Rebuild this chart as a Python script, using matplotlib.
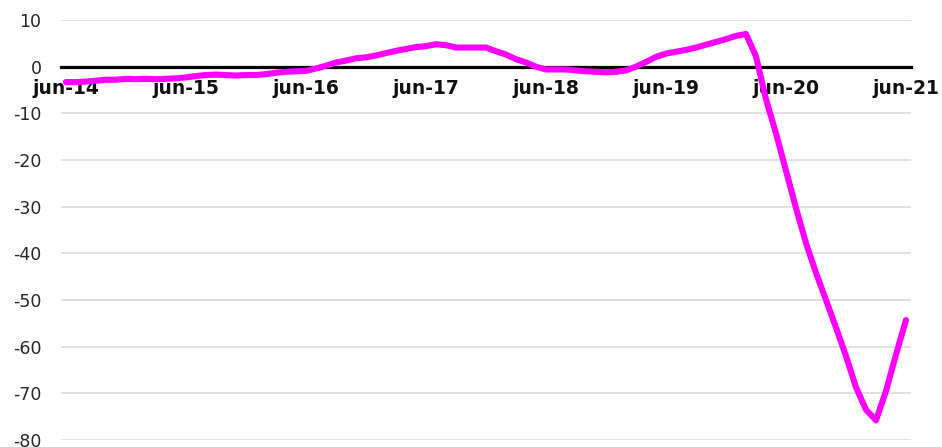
import matplotlib
matplotlib.use("Agg")
import matplotlib.pyplot as plt

plt.rcParams["axes.unicode_minus"] = False

years = ["14", "15", "16", "17", "18", "19", "20", "21"]
tick_labels = ["jun-" + y for y in years]

values = [
    -3.3, -3.3, -3.2, -3.0, -2.8, -2.8, -2.6, -2.7, -2.6, -2.7, -2.6, -2.5,
    -2.3, -2.0, -1.8, -1.7, -1.8, -1.9, -1.8, -1.8, -1.6, -1.3, -1.1, -1.0,
    -0.9, -0.4, 0.2, 0.9, 1.3, 1.8, 2.0, 2.4, 2.9, 3.4, 3.8, 4.2,
    4.4, 4.8, 4.6, 4.1, 4.1, 4.1, 4.1, 3.3, 2.6, 1.6, 0.9, 0.0,
    -0.6, -0.6, -0.6, -0.8, -1.0, -1.1, -1.2, -1.1, -0.8, 0.0, 1.0, 2.1,
    2.8, 3.2, 3.6, 4.1, 4.7, 5.3, 5.9, 6.6, 7.0, 2.2, -7.0, -14.3,
    -22.3, -30.3, -37.8, -44.2, -50.0, -55.9, -62.0, -68.7, -73.5, -75.8, -69.5, -61.7,
    -54.3,
]

fig = plt.figure(figsize=(9.42, 4.47), dpi=100)
ax = fig.add_axes([61 / 942, 1 - 440 / 447, 850 / 942, 420 / 447])

x = list(range(len(values)))
ax.plot(x, values, color="#FF00FF", lw=4.4, solid_capstyle="round",
        solid_joinstyle="round", zorder=3)

ax.set_xlim(-0.5, len(values) - 0.5)
ax.set_ylim(-80, 10)
ax.set_yticks(range(-80, 11, 10))
ax.grid(axis="y", color="#d9d9d9", lw=1.1)
ax.set_axisbelow(True)

for s in ["top", "right", "left"]:
    ax.spines[s].set_visible(False)
ax.spines["bottom"].set_position(("data", 0))
ax.spines["bottom"].set_color("black")
ax.spines["bottom"].set_linewidth(2.3)
ax.spines["bottom"].set_zorder(2)

ax.set_xticks(range(0, len(values), 12))
ax.set_xticklabels(tick_labels, fontweight="bold", fontsize=13.5, color="#111111")
ax.tick_params(axis="x", length=0, pad=9)
ax.tick_params(axis="y", length=0, pad=14, labelsize=12.5, labelcolor="#262626")

fig.savefig("out.png", dpi=100)
